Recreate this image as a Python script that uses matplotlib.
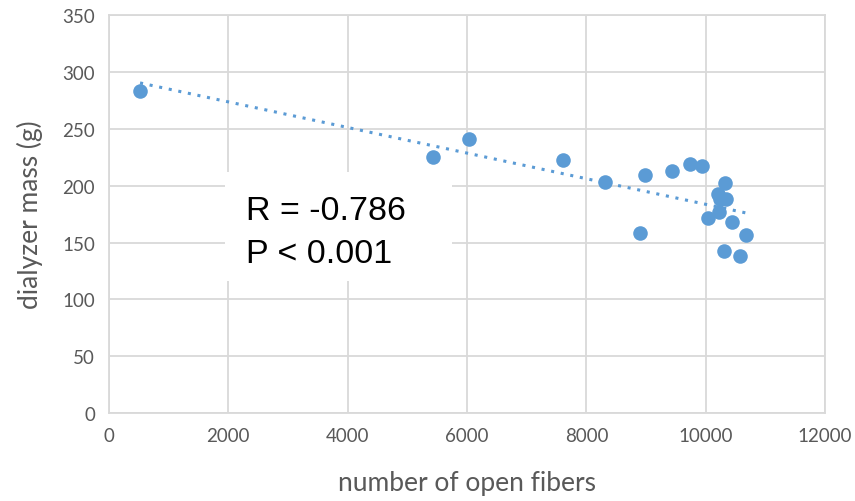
import numpy as np
import matplotlib.pyplot as plt
from matplotlib.patches import Rectangle

# number of open fibers vs dialyzer mass (g)
fibers = [520, 5430, 6033, 7609, 8313, 8899, 8983, 9435, 9737, 9938,
          10039, 10206, 10223, 10240, 10306, 10323, 10340, 10441, 10575, 10675]
mass = [283, 225, 241, 223, 203, 158, 209, 213, 219, 217,
        172, 193, 177, 188, 143, 202, 188, 168, 138, 157]

xticks = [0, 2000, 4000, 6000, 8000, 10000, 12000]
yticks = [0, 50, 100, 150, 200, 250, 300, 350]
stats = ["R = -0.786", "P < 0.001"]

color = "#5B9BD5"
grid = "#D9D9D9"
txt = "#595959"

fig = plt.figure(figsize=(8.55, 5.02), dpi=100)
ax = fig.add_axes([0.1275, 0.175, 0.8375, 0.793])

ax.scatter(fibers, mass, s=110, color=color, zorder=3, linewidths=0)

# linear trendline
k, b = np.polyfit(fibers, mass, 1)
xs = np.array([min(fibers), max(fibers)])
ax.plot(xs, k * xs + b, linestyle=(0, (1, 2.2)), color=color, lw=2.2, zorder=2)

ax.set_xlim(0, 12000)
ax.set_ylim(0, 350)
ax.set_xticks(xticks)
ax.set_yticks(yticks)
ax.grid(True, color=grid, lw=1.3, zorder=0)
ax.set_axisbelow(True)
for s in ax.spines.values():
    s.set_color(grid)
    s.set_linewidth(1.3)
ax.tick_params(length=0, labelsize=13.5, labelcolor=txt, pad=10)
for lab in ax.get_xticklabels() + ax.get_yticklabels():
    lab.set_family("Lato")

ax.set_xlabel("number of open fibers", fontsize=19, color=txt, family="Lato", labelpad=19)
ax.set_ylabel("dialyzer mass (g)", fontsize=19, color=txt, family="Lato", labelpad=14)

# white text box with the correlation stats
ax.add_patch(Rectangle((1944, 116), 3800, 96, facecolor="white", edgecolor="none", zorder=4))
ax.text(2300, 170.6, stats[0], fontsize=24.5, family="Liberation Sans", color="black",
        va="baseline", ha="left", zorder=5)
ax.text(2300, 132.8, stats[1], fontsize=24.5, family="Liberation Sans", color="black",
        va="baseline", ha="left", zorder=5)

fig.savefig("out.png", dpi=100)
